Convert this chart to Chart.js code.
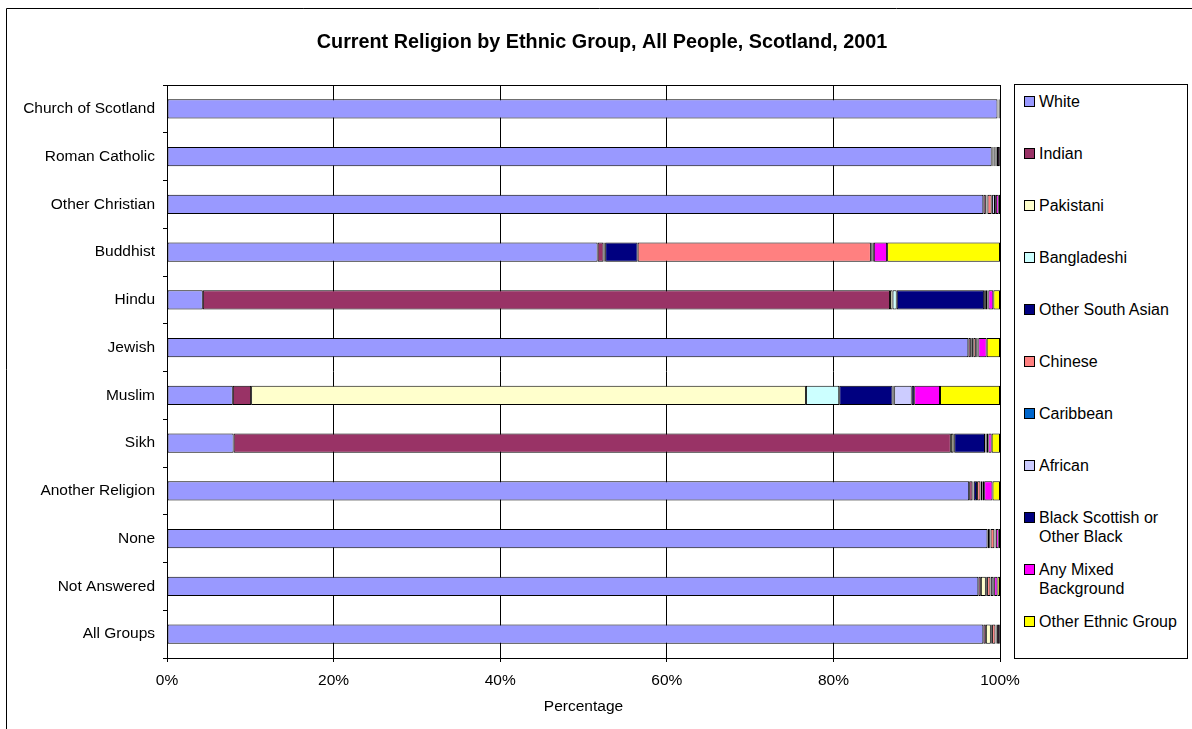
<!DOCTYPE html>
<html lang="en">
<head>
    <meta charset="UTF-8" />
    <title>Current Religion by Ethnic Group</title>
    <script src="https://cdn.jsdelivr.net/npm/chart.js"></script>
    <style>
        * { box-sizing: border-box; margin: 0; padding: 0; }
        body { background: #fff; width: 1192px; height: 729px; overflow: hidden; position: relative;
               font-family: 'Liberation Sans', Arial, sans-serif; }
        #wrap { position: absolute; left: 0; top: 0; width: 1192px; height: 729px; }
        .legend-box { position: absolute; left: 1014px; top: 84px; width: 174px; height: 575px;
                      border: 1px solid #000; background: #fff; }
        .legend-item { position: absolute; left: 0; font-size: 16px; line-height: 19px; color: #000; }
        .legend-item .sw { position: absolute; left: 9px; top: 4px; width: 11px; height: 11px; border: 1px solid #000; }
        .legend-item .txt { position: absolute; left: 24px; top: 0; white-space: nowrap; }
    </style>
</head>
<body>
    <div id="wrap"><canvas id="chart" width="1192" height="729"></canvas></div>
    <div class="legend-box" id="legend"></div>

    <script>
        const categories = ['Church of Scotland', 'Roman Catholic', 'Other Christian', 'Buddhist', 'Hindu', 'Jewish',
                            'Muslim', 'Sikh', 'Another Religion', 'None', 'Not Answered', 'All Groups'];

        // percentages per religion row, one array per ethnic group
        const white           = [99.7, 99.0, 98.0, 51.7, 4.3, 96.2, 7.9, 8.0, 96.3, 98.5, 97.4, 98.0];
        const indian          = [0.02, 0.1, 0.3, 0.7, 82.5, 0.3, 2.2, 86.1, 0.4, 0.2, 0.3, 0.3];
        const pakistani       = [0.02, 0.1, 0.05, 0.1, 0.3, 0.1, 66.6, 0.3, 0.1, 0.1, 0.6, 0.6];
        const bangladeshi     = [0.01, 0.02, 0.05, 0.1, 0.5, 0.05, 4.0, 0.1, 0.05, 0.02, 0.05, 0.05];
        const otherSouthAsian = [0.02, 0.1, 0.1, 3.9, 10.5, 0.15, 6.4, 3.7, 0.4, 0.05, 0.1, 0.1];
        const chinese         = [0.05, 0.15, 0.5, 28.0, 0.1, 0.3, 0.1, 0.05, 0.4, 0.45, 0.4, 0.4];
        const caribbean       = [0.01, 0.02, 0.05, 0.1, 0.1, 0.05, 0.1, 0.05, 0.05, 0.03, 0.05, 0.03];
        const african         = [0.03, 0.1, 0.35, 0.1, 0.2, 0.15, 2.1, 0.1, 0.2, 0.1, 0.3, 0.1];
        const blackOther      = [0.02, 0.05, 0.1, 0.15, 0.1, 0.1, 0.3, 0.2, 0.2, 0.05, 0.1, 0.07];
        const mixed           = [0.08, 0.25, 0.35, 1.6, 0.6, 1.0, 3.1, 0.4, 1.0, 0.35, 0.4, 0.25];
        const otherEthnic     = [0.04, 0.1, 0.15, 13.55, 0.8, 1.6, 7.2, 1.0, 0.9, 0.15, 0.3, 0.1];

        const seriesNames = ['White', 'Indian', 'Pakistani', 'Bangladeshi', 'Other South Asian', 'Chinese',
                             'Caribbean', 'African', 'Black Scottish or\nOther Black', 'Any Mixed\nBackground',
                             'Other Ethnic Group'];
        const seriesData = [white, indian, pakistani, bangladeshi, otherSouthAsian, chinese,
                            caribbean, african, blackOther, mixed, otherEthnic];
        const seriesColors = ['#9999FF', '#993366', '#FFFFCC', '#CCFFFF', '#000080', '#FF8080',
                              '#0066CC', '#CCCCFF', '#000080', '#FF00FF', '#FFFF00'];

        const xTicks = [0, 20, 40, 60, 80, 100];
        const FONT = "'Liberation Sans', Arial, sans-serif";

        Chart.defaults.font.family = FONT;
        Chart.defaults.font.size = 15.5;
        Chart.defaults.color = '#000';

        // frame, plot outline and title
        const decor = {
            id: 'decor',
            afterDraw(chart) {
                const ctx = chart.ctx;
                const a = chart.chartArea;
                ctx.save();
                ctx.strokeStyle = '#000';
                ctx.lineWidth = 1;
                ctx.beginPath();
                ctx.moveTo(6.5, 800);
                ctx.lineTo(6.5, 8.5);
                ctx.lineTo(1200, 8.5);
                ctx.stroke();
                ctx.beginPath();
                ctx.moveTo(Math.round(a.left) + 0.5, Math.round(a.top) + 0.5);
                ctx.lineTo(Math.round(a.right) + 0.5, Math.round(a.top) + 0.5);
                ctx.lineTo(Math.round(a.right) + 0.5, Math.round(a.bottom) + 0.5);
                ctx.stroke();
                ctx.fillStyle = '#000';
                ctx.font = 'bold 19.8px ' + FONT;
                ctx.textAlign = 'center';
                ctx.textBaseline = 'middle';
                ctx.fillText('Current Religion by Ethnic Group, All People, Scotland, 2001', 602, 43);
                ctx.restore();
            }
        };

        new Chart(document.getElementById('chart'), {
            type: 'bar',
            data: {
                labels: categories,
                datasets: seriesData.map((d, i) => ({
                    label: seriesNames[i],
                    data: d,
                    backgroundColor: seriesColors[i],
                    borderColor: '#000',
                    borderWidth: 1,
                    borderSkipped: false,
                    barPercentage: 0.4,
                    categoryPercentage: 1
                }))
            },
            options: {
                indexAxis: 'y',
                responsive: false,
                animation: false,
                layout: { padding: { top: 85, right: 192, bottom: 0, left: 0 } },
                plugins: {
                    legend: { display: false },
                    tooltip: { enabled: false },
                    title: { display: false }
                },
                scales: {
                    x: {
                        stacked: true,
                        min: 0,
                        max: 100,
                        afterBuildTicks: s => { s.ticks = xTicks.map(v => ({ value: v })); },
                        ticks: { callback: v => v + '%', padding: 9, maxRotation: 0 },
                        grid: { color: '#000', tickLength: 4 },
                        border: { color: '#000' },
                        title: { display: true, text: 'Percentage', padding: { top: 0, bottom: 13 } },
                        afterFit: s => { s.height = 71; }
                    },
                    y: {
                        stacked: true,
                        ticks: { padding: 8 },
                        grid: { drawOnChartArea: false, color: '#000', tickLength: 4 },
                        border: { color: '#000' },
                        afterFit: s => { s.width = 167; }
                    }
                }
            },
            plugins: [decor]
        });

        // legend, same order as the series
        const legend = document.getElementById('legend');
        seriesNames.forEach((name, i) => {
            const item = document.createElement('div');
            item.className = 'legend-item';
            item.style.top = (7 + i * 52) + 'px';
            const sw = document.createElement('span');
            sw.className = 'sw';
            sw.style.background = seriesColors[i];
            const txt = document.createElement('span');
            txt.className = 'txt';
            txt.innerHTML = name.split('\n').join('<br>');
            item.appendChild(sw);
            item.appendChild(txt);
            legend.appendChild(item);
        });
    </script>
</body>
</html>
